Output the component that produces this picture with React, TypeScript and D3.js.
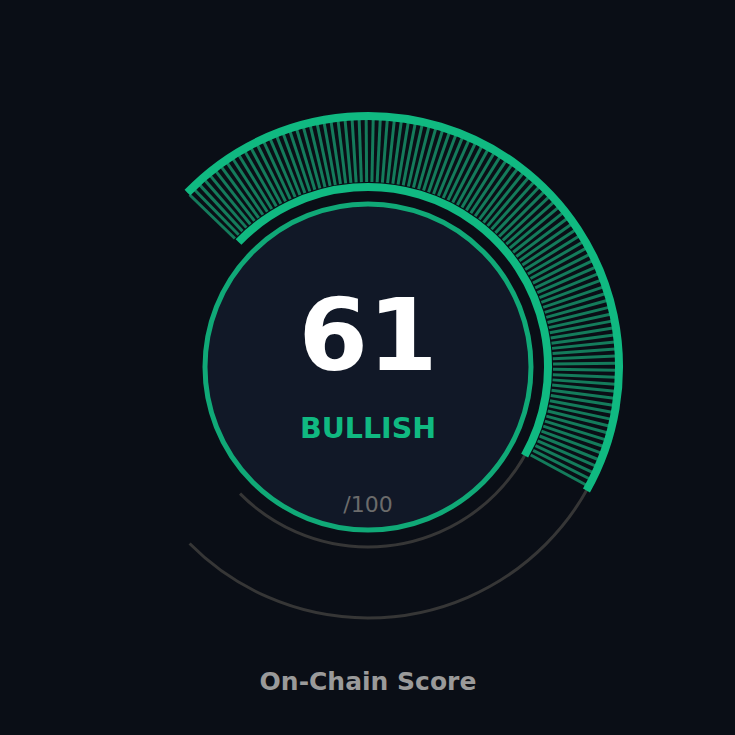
import React from "react";
import * as d3 from "d3";

const score = 61;
const maxScore = 100;
const label = "BULLISH";
const title = "On-Chain Score";
const tickStep = 0.6;

const W = 735;
const H = 735;
const cx = 368;
const cy = 367;
const deg = Math.PI / 180;
const startA = -46 * deg;
const endA = 225.3 * deg;

export default function App() {
  React.useEffect(() => {
    document.body.style.margin = "0";
    document.body.style.background = "#0a0e16";
  }, []);

  const angle = d3.scaleLinear().domain([0, maxScore]).range([startA, endA]);
  const valA = angle(score);

  const arcPath = (r: number, a0: number, a1: number) =>
    d3.arc()({ innerRadius: r, outerRadius: r, startAngle: a0, endAngle: a1 } as any) as string;

  const ticks = d3.range(0, score + 1e-9, tickStep);
  const rIn = 185;
  const rOut = 248;

  return (
    <svg width={W} height={H} style={{ display: "block", background: "#0a0e16" }}>
      <rect x={0} y={0} width={W} height={H} fill="#0a0e16" />
      <g transform={`translate(${cx},${cy})`}>
        <path d={arcPath(251, startA, endA)} fill="none" stroke="#363636" strokeWidth={3} />
        <path d={arcPath(180, startA, endA)} fill="none" stroke="#363636" strokeWidth={3} />
        {ticks.map((t, i) => {
          const a = angle(t);
          return (
            <line
              key={i}
              x1={rIn * Math.sin(a)}
              y1={-rIn * Math.cos(a)}
              x2={rOut * Math.sin(a)}
              y2={-rOut * Math.cos(a)}
              stroke="#147b5b"
              strokeWidth={3}
            />
          );
        })}
        <path d={arcPath(251, startA, valA)} fill="none" stroke="#10b981" strokeWidth={8} />
        <path d={arcPath(180, startA, valA)} fill="none" stroke="#10b981" strokeWidth={8} />
        <circle r={163} fill="#111827" stroke="#10a977" strokeWidth={5} />
        <text
          x={0}
          y={3}
          textAnchor="middle"
          fontFamily="DejaVu Sans"
          fontWeight="bold"
          fontSize={100}
          fill="#ffffff"
        >
          {score}
        </text>
        <text
          x={0}
          y={71}
          textAnchor="middle"
          fontFamily="DejaVu Sans"
          fontWeight="bold"
          fontSize={28.5}
          fill="#10b981"
        >
          {label}
        </text>
        <text
          x={0}
          y={145}
          textAnchor="middle"
          fontFamily="DejaVu Sans"
          fontSize={22}
          fill="#6b6b6b"
        >
          {`/${maxScore}`}
        </text>
      </g>
      <text
        x={cx}
        y={690}
        textAnchor="middle"
        fontFamily="DejaVu Sans"
        fontWeight="bold"
        fontSize={25}
        fill="#9a9a9a"
      >
        {title}
      </text>
    </svg>
  );
}
